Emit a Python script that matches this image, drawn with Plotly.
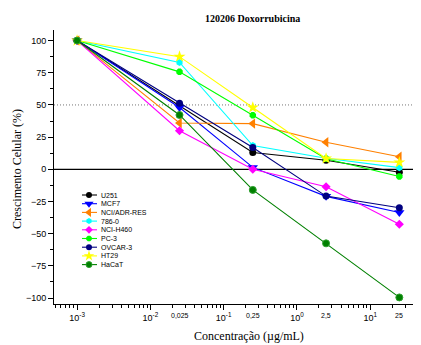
import math
import plotly.graph_objects as go

conc = [0.001, 0.025, 0.25, 2.5, 25]
names = ["U251", "MCF7", "NCI/ADR-RES", "786-0", "NCI-H460", "PC-3", "OVCAR-3", "HT29", "HaCaT"]
u251 = [100, 49.5, 13, 7, -2.3]
mcf7 = [100, 48, 1.5, -21, -33.5]
nciadr = [100, 36, 35.5, 21, 9.8]
c7860 = [100, 83, 18.5, 8.6, 1.3]
h460 = [100, 30, 0, -13.5, -42.7]
pc3 = [100, 75.7, 42, 8.2, -5.6]
ovcar3 = [100, 51.3, 17, -20.8, -29.8]
ht29 = [100, 87.5, 48, 8.4, 5.4]
hacat = [100, 42.2, -16, -57.5, -99.5]
series = [u251, mcf7, nciadr, c7860, h460, pc3, ovcar3, ht29, hacat]
colors = ["#000000", "#0000FF", "#FF8000", "#00FFFF", "#FF00FF", "#00FF00", "#000080", "#FFFF00", "#008000"]
symbols = ["circle", "triangle-down", "triangle-left", "hexagon", "diamond", "octagon", "circle", "star", "circle"]
extra_labels = ["0,025", "0,25", "2,5", "25"]
major_tickvals = [1e-3, 1e-2, 1e-1, 1, 10]
major_ticktext = ["10<sup>-3</sup>", "10<sup>-2</sup>", "10<sup>-1</sup>", "10<sup>0</sup>", "10<sup>1</sup>"]

def msize(sym, base):
    if sym == "star" or sym.startswith("triangle"):
        return base + 2
    return base

fig = go.Figure()
for name, ys, col, sym in zip(names, series, colors, symbols):
    lc = "#2ea02e" if name == "HaCaT" else col
    fig.add_trace(go.Scatter(
        x=conc, y=ys, name=name, mode="lines+markers",
        line=dict(color=col, width=1.1),
        marker=dict(symbol=sym, size=msize(sym, 7), color=col,
                    line=dict(color=lc, width=1 if name == "HaCaT" else 0)),
        showlegend=False, cliponaxis=False))

# page offset (body margin) compensation
OFF = 8
FW, FH = 421 - OFF, 345 - OFF
L, R, T, B = 54 - OFF, 1, 30 - OFF, 345 - 304
W, H = FW - L - R, FH - T - B
def px(x):
    return (x - OFF - L) / W
def py(y):
    return (FH - B - (y - OFF)) / H

annotations = []
for i, (name, col, sym) in enumerate(zip(names, colors, symbols)):
    yy = py(195 + i * 8.7)
    lc = "#2ea02e" if name == "HaCaT" else col
    fig.add_trace(go.Scatter(
        x=[px(82), px(97)], y=[yy, yy], mode="lines", line=dict(color=col, width=1.1),
        xaxis="x2", yaxis="y2", showlegend=False, hoverinfo="skip"))
    fig.add_trace(go.Scatter(
        x=[px(89)], y=[yy], mode="markers",
        marker=dict(symbol=sym, size=msize(sym, 6), color=col,
                    line=dict(color=lc, width=1 if name == "HaCaT" else 0)),
        xaxis="x2", yaxis="y2", showlegend=False, hoverinfo="skip"))
    annotations.append(dict(x=px(99), y=yy, xref="paper", yref="paper", text=name,
                            showarrow=False, xanchor="left", yanchor="middle",
                            font=dict(family="Liberation Sans, Arial", size=7, color="black")))

for c, lab in zip(conc[1:], extra_labels):
    annotations.append(dict(x=math.log10(c), y=py(315), xref="x", yref="paper", text=lab,
                            showarrow=False, xanchor="center", yanchor="middle",
                            font=dict(family="Liberation Sans, Arial", size=7, color="black")))

annotations.append(dict(x=px(17), y=py(169), xref="paper", yref="paper", text="Crescimento Celular (%)",
                        showarrow=False, textangle=-90, xanchor="center", yanchor="middle",
                        font=dict(family="Liberation Serif, Times New Roman", size=12, color="black")))
annotations.append(dict(x=px(249), y=py(336), xref="paper", yref="paper", text="Concentração (µg/mL)",
                        showarrow=False, xanchor="center", yanchor="middle",
                        font=dict(family="Liberation Serif, Times New Roman", size=12, color="black")))
annotations.append(dict(x=px(252), y=py(18), xref="paper", yref="paper", text="<b>120206 Doxorrubicina</b>",
                        showarrow=False, xanchor="center", yanchor="middle",
                        font=dict(family="Liberation Serif, Times New Roman", size=10, color="black")))

minor_vals = [m * 10 ** e for e in range(-4, 2) for m in range(2, 10)]

fig.update_layout(
    width=FW, height=FH,
    margin=dict(l=L, r=R, t=T, b=B, autoexpand=False),
    plot_bgcolor="white", paper_bgcolor="white",
    xaxis=dict(type="log", range=[-3.315, 1.68], tickmode="array", tickvals=major_tickvals,
               ticktext=major_ticktext, ticks="outside", ticklen=5, tickcolor="black",
               showline=True, linecolor="black", linewidth=1, showgrid=False, zeroline=False,
               automargin=False,
               tickfont=dict(family="Liberation Sans, Arial", size=9, color="black"),
               minor=dict(tickmode="array", tickvals=minor_vals, ticks="outside", ticklen=3,
                          tickcolor="black", showgrid=False)),
    yaxis=dict(range=[-104.6, 108.2], tickmode="array", tickvals=list(range(-100, 101, 25)),
               ticks="outside", ticklen=5, tickcolor="black", showline=True, linecolor="black",
               linewidth=1, showgrid=False, zeroline=False, automargin=False,
               tickfont=dict(family="Liberation Sans, Arial", size=9, color="black"),
               minor=dict(tickmode="array", tickvals=[v + 12.5 for v in range(-100, 100, 25)],
                          ticks="outside", ticklen=3, tickcolor="black", showgrid=False)),
    xaxis2=dict(domain=[0, 1], range=[0, 1], overlaying="x", visible=False),
    yaxis2=dict(domain=[0, 1], range=[0, 1], overlaying="y", visible=False),
    annotations=annotations,
    shapes=[
        dict(type="line", xref="paper", x0=0, x1=1, yref="y", y0=0, y1=0,
             line=dict(color="black", width=1.2), layer="below"),
        dict(type="line", xref="paper", x0=0, x1=1, yref="y", y0=50, y1=50,
             line=dict(color="#777777", width=1, dash="1px,2px"), layer="below"),
    ],
)

fig.write_html("out.html")
